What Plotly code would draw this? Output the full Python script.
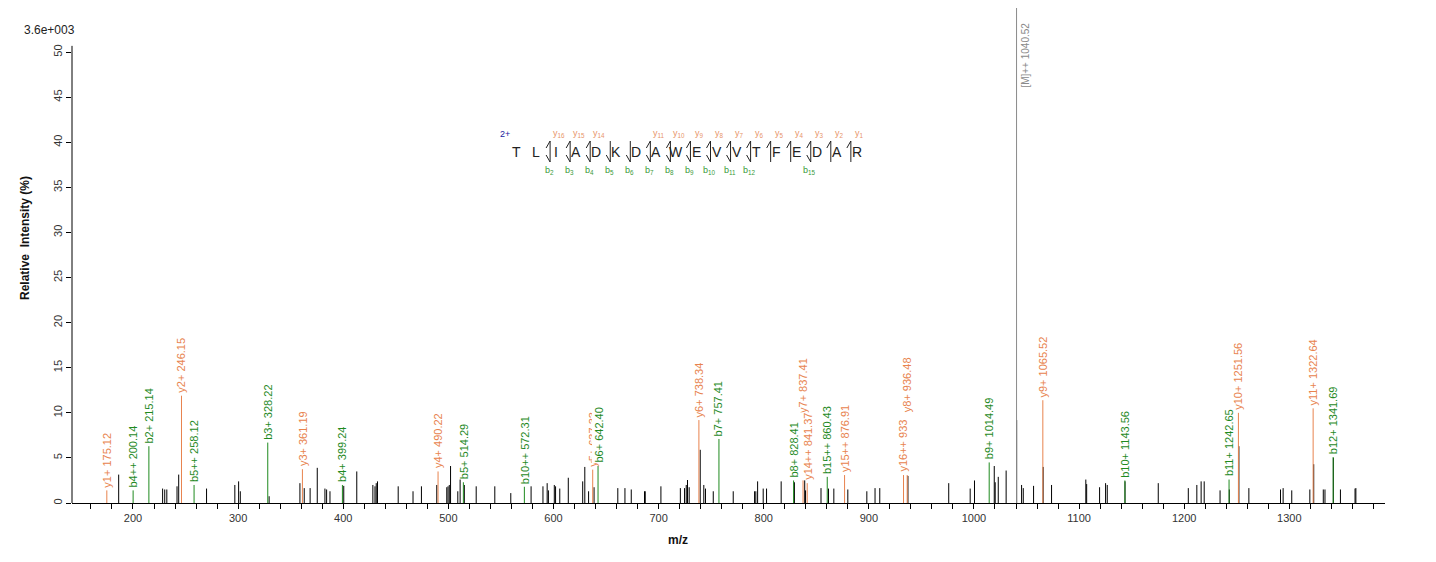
import plotly.graph_objects as go

# pics annotés (ions b / y)
ion_names = ["y1+", "b4++", "b2+", "y2+", "b5++", "b3+", "y3+", "b4+", "y4+", "b5+",
             "b10++", "y5+", "b6+", "y6+", "b7+", "b8+", "y7+", "y14++", "b15++", "y15++",
             "y16++", "y8+", "b9+", "y9+", "b10+", "b11+", "y10+", "y11+", "b12+"]
ion_mz = [175.12, 200.14, 215.14, 246.15, 258.12, 328.22, 361.19, 399.24, 490.22, 514.29,
          572.31, 637.33, 642.40, 738.34, 757.41, 828.41, 837.41, 841.37, 860.43, 876.91,
          933.00, 936.48, 1014.49, 1065.52, 1143.56, 1242.65, 1251.56, 1322.64, 1341.69]
ion_int = [1.4, 1.4, 6.3, 11.9, 2.0, 6.7, 3.75, 2.0, 3.5, 2.3,
           1.8, 3.7, 4.1, 9.2, 7.1, 2.5, 2.9, 2.2, 2.9, 3.1,
           3.1, 3.1, 4.5, 11.4, 2.5, 2.6, 10.0, 10.5, 5.1]
ion_text = ["y1+ 175.12", "b4++ 200.14", "b2+ 215.14", "y2+ 246.15", "b5++ 258.12",
            "b3+ 328.22", "y3+ 361.19", "b4+ 399.24", "y4+ 490.22", "b5+ 514.29",
            "b10++ 572.31", "y5+ 637.33", "b6+ 642.40", "y6+ 738.34", "b7+ 757.41",
            "b8+ 828.41", "y7+ 837.41", "y14++ 841.37", "b15++ 860.43", "y15++ 876.91",
            "y16++ 933", "y8+ 936.48", "b9+ 1014.49", "y9+ 1065.52", "b10+ 1143.56",
            "b11+ 1242.65", "y10+ 1251.56", "y11+ 1322.64", "b12+ 1341.69"]

# précurseur
prec_mz = 1040.52
prec_int = 100
prec_text = "[M]++ 1040.52"

# pics non annotés
peak_mz = [186.4, 228.2, 230.2, 232.2, 241.9, 243.5, 270.0, 296.9, 300.5, 302.1,
           329.5, 358.8, 362.9, 368.5, 375.3, 382.6, 384.2, 387.4, 400.5, 412.9,
           428.2, 430.2, 431.4, 432.6, 452.3, 466.4, 474.4, 489.0, 498.5, 499.7,
           500.9, 502.1, 509.0, 511.2, 515.2, 526.5, 544.2, 559.4, 578.7, 590.0,
           594.0, 595.2, 600.8, 602.0, 606.0, 614.1, 627.8, 629.8, 633.4, 638.6,
           661.2, 668.0, 674.0, 686.6, 687.3, 702.2, 720.7, 724.7, 726.3, 727.5,
           729.1, 739.6, 743.0, 744.6, 752.0, 771.0, 791.3, 792.5, 794.2, 799.5,
           802.7, 816.6, 829.2, 839.0, 839.8, 854.5, 861.6, 866.7, 880.0, 898.1,
           905.9, 910.4, 937.2, 976.0, 996.4, 1000.5, 1019.3, 1020.2, 1023.1, 1030.6,
           1040.6, 1045.3, 1046.9, 1056.7, 1065.8, 1073.8, 1106.4, 1107.2, 1119.5, 1125.2,
           1126.8, 1143.7, 1175.3, 1203.9, 1212.0, 1216.1, 1219.0, 1234.1, 1242.9, 1252.0,
           1261.5, 1291.6, 1294.1, 1302.3, 1319.5, 1323.2, 1332.3, 1333.9, 1341.9, 1348.6,
           1362.5, 1363.3]
peak_int = [3.15, 1.6, 1.5, 1.5, 1.85, 3.15, 1.6, 2.0, 2.4, 1.3,
            0.75, 2.2, 1.65, 1.65, 3.9, 1.6, 1.5, 1.3, 1.9, 3.5,
            2.0, 1.85, 2.2, 2.4, 1.85, 1.3, 1.85, 2.0, 1.75, 1.85,
            2.0, 4.1, 1.3, 2.6, 2.0, 1.85, 1.85, 1.1, 1.85, 1.85,
            2.2, 1.4, 2.0, 1.85, 1.6, 2.8, 2.4, 4.0, 1.3, 1.75,
            1.65, 1.65, 1.5, 1.3, 1.3, 1.85, 1.65, 1.65, 2.0, 2.55,
            1.75, 5.9, 2.0, 1.6, 1.3, 1.3, 1.3, 1.3, 2.4, 1.6,
            1.6, 2.4, 2.3, 2.6, 1.4, 1.65, 1.6, 1.6, 1.5, 1.3,
            1.65, 1.65, 3.0, 2.2, 1.6, 2.5, 4.1, 2.3, 2.9, 3.6,
            9.2, 2.0, 1.65, 1.9, 4.0, 2.0, 2.6, 2.1, 1.75, 2.2,
            2.0, 2.4, 2.2, 1.65, 2.0, 2.4, 2.4, 1.4, 1.5, 6.3,
            1.65, 1.5, 1.65, 1.4, 1.5, 4.3, 1.5, 1.5, 5.0, 1.5,
            1.6, 1.65]

# séquence du peptide et fragments observés
sequence = "TLIADKDAWEVVTFEDAR"
y_seen = [16, 15, 14, 11, 10, 9, 8, 7, 6, 5, 4, 3, 2, 1]
b_seen = [2, 3, 4, 5, 6, 7, 8, 9, 10, 11, 12, 15]
charge_text = "2+"
max_int_text = "3.6e+003"
y_ticks = [0, 5, 10, 15, 20, 25, 30, 35, 40, 45, 50]

GREEN = "#1f8a1f"
ORANGE = "#e8834e"
FONT = "Arial, Liberation Sans, sans-serif"

# géométrie (la page ajoute une marge de 8 px autour de la figure)
OFF = 8
W, H = 1428, 554
L, R, T, B = 64, 51, 0, 59
PW, PH = W - L - R, H - T - B


def px(x):
    # position écran -> coordonnée papier
    return (x - OFF - L) / PW


def py(y):
    return (H - B - (y - OFF)) / PH


def stems(xs, ys):
    sx, sy = [], []
    for x, y in zip(xs, ys):
        sx += [x, x, None]
        sy += [0, y, None]
    return sx, sy


fig = go.Figure()

bx, by = stems(peak_mz, peak_int)
fig.add_trace(go.Scatter(x=bx, y=by, mode="lines", line=dict(color="black", width=1),
                         hoverinfo="skip"))

for kind, col in [("b", GREEN), ("y", ORANGE)]:
    xs = [m for m, n in zip(ion_mz, ion_names) if n.startswith(kind)]
    ys = [v for v, n in zip(ion_int, ion_names) if n.startswith(kind)]
    sx, sy = stems(xs, ys)
    fig.add_trace(go.Scatter(x=sx, y=sy, mode="lines", line=dict(color=col, width=1),
                             hoverinfo="skip"))

sx, sy = stems([prec_mz], [prec_int])
fig.add_trace(go.Scatter(x=sx, y=sy, mode="lines", line=dict(color="#8a8a8a", width=1),
                         hoverinfo="skip"))

# étiquettes des ions
lifted = {"y7+": 9.6, "y8+": 9.7}
covered = {"b6+", "y14++"}
annotations = []
for name, m, v, txt in zip(ion_names, ion_mz, ion_int, ion_text):
    col = GREEN if name.startswith("b") else ORANGE
    annotations.append(dict(
        x=m, y=lifted.get(name, v), text=txt, textangle=-90, showarrow=False,
        xanchor="center", yanchor="bottom", yshift=2,
        font=dict(family=FONT, size=11, color=col),
        bgcolor="white" if name in covered else "rgba(0,0,0,0)", borderpad=0))

annotations.append(dict(x=prec_mz, y=45.8, text=prec_text, textangle=-90, showarrow=False,
                        xanchor="left", yanchor="bottom", xshift=1,
                        font=dict(family=FONT, size=10, color="#8a8a8a")))

annotations += [
    dict(xref="paper", yref="paper", x=px(22), y=py(30), text=max_int_text,
         showarrow=False, xanchor="left", yanchor="middle",
         font=dict(family=FONT, size=12, color="#222")),
    dict(xref="paper", yref="paper", x=px(25), y=py(238),
         text="<b>Relative  Intensity (%)</b>",
         textangle=-90, showarrow=False, xanchor="center", yanchor="middle",
         font=dict(family=FONT, size=12, color="#111")),
    dict(xref="paper", yref="paper", x=px(678), y=py(540), text="<b>m/z</b>",
         showarrow=False, xanchor="center", yanchor="middle",
         font=dict(family=FONT, size=12, color="#111")),
]

# schéma de fragmentation
letter_x0, letter_dx, letter_y = 516, 20.05, 152
shapes = []
for k, aa in enumerate(sequence):
    annotations.append(dict(xref="paper", yref="paper", x=px(letter_x0 + k * letter_dx),
                            y=py(letter_y), text=aa, showarrow=False,
                            xanchor="center", yanchor="middle",
                            font=dict(family=FONT, size=14, color="#222")))
annotations.append(dict(xref="paper", yref="paper", x=px(505), y=py(134), text=charge_text,
                        showarrow=False, xanchor="center", yanchor="middle",
                        font=dict(family=FONT, size=9, color="#1a1aa0")))

n = len(sequence)
for i in range(1, n):
    has_b = i in b_seen
    has_y = (n - i) in y_seen
    if not (has_b or has_y):
        continue
    cx = letter_x0 + i * letter_dx - 6
    top, bot = 141, 162
    path = f"M {px(cx)} {py(top)} L {px(cx)} {py(bot)}"
    shapes.append(dict(type="path", xref="paper", yref="paper", path=path,
                       line=dict(color="#222", width=1)))
    if has_y:
        shapes.append(dict(type="line", xref="paper", yref="paper",
                           x0=px(cx - 4), y0=py(top + 7), x1=px(cx), y1=py(top),
                           line=dict(color="#222", width=1)))
        annotations.append(dict(xref="paper", yref="paper", x=px(cx + 9), y=py(134),
                                text=f"y<sub>{n - i}</sub>", showarrow=False,
                                xanchor="center", yanchor="middle",
                                font=dict(family=FONT, size=9, color="#e8956a")))
    if has_b:
        shapes.append(dict(type="line", xref="paper", yref="paper",
                           x0=px(cx), y0=py(bot), x1=px(cx - 4), y1=py(bot - 7),
                           line=dict(color="#222", width=1)))
        annotations.append(dict(xref="paper", yref="paper", x=px(cx - 1), y=py(170),
                                text=f"b<sub>{i}</sub>", showarrow=False,
                                xanchor="center", yanchor="middle",
                                font=dict(family=FONT, size=9, color="#3a9a3a")))

# axe vertical limité à 50 %
shapes.append(dict(type="line", xref="paper", yref="y", x0=0, x1=0, y0=0, y1=50.7,
                   line=dict(color="black", width=1)))

fig.update_layout(
    width=W, height=H,
    margin=dict(l=L, r=R, t=T, b=B, autoexpand=False),
    plot_bgcolor="white", paper_bgcolor="white",
    showlegend=False,
    annotations=annotations, shapes=shapes,
    xaxis=dict(range=[142, 1391], showgrid=False, zeroline=False,
               showline=True, linecolor="black", linewidth=1,
               tick0=0, dtick=100, ticks="outside", ticklen=5, tickcolor="black",
               minor=dict(dtick=20, ticks="outside", ticklen=5, tickcolor="black"),
               tickfont=dict(family=FONT, size=11, color="#333")),
    yaxis=dict(range=[0, 54.9], showgrid=False, zeroline=False, showline=False,
               tickvals=y_ticks, ticks="outside", ticklen=5, tickcolor="black",
               tickangle=-90, tickfont=dict(family=FONT, size=11, color="#333")),
)

fig.write_html("out.html")
